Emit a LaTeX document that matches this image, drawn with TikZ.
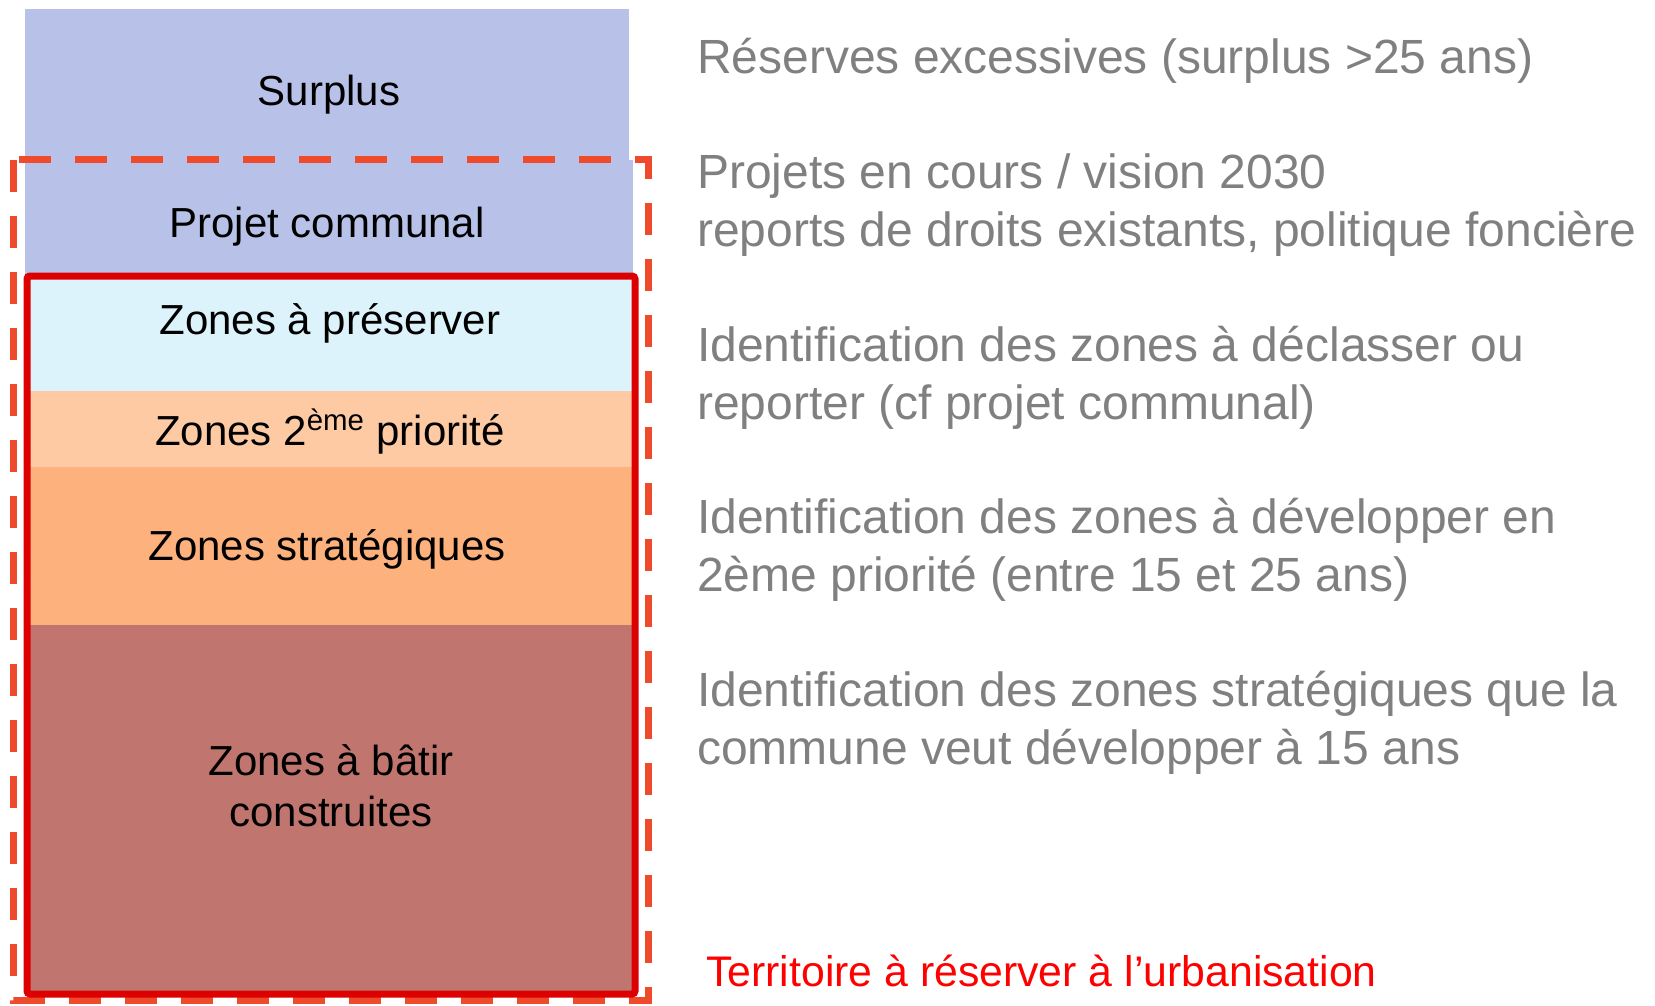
\documentclass[tikz,border=0pt]{standalone}
\usepackage{fontspec}
\setmainfont{Liberation Sans}
\usetikzlibrary{positioning}
\definecolor{lavande}{HTML}{B8C2E8}
\definecolor{ciel}{HTML}{DDF3FB}
\definecolor{peche}{HTML}{FDCAA3}
\definecolor{abricot}{HTML}{FDB17C}
\definecolor{brique}{HTML}{C0766F}
\definecolor{gris}{HTML}{808080}
\definecolor{rougetrait}{HTML}{EF4A2C}
\definecolor{rougecadre}{HTML}{DD0000}
\tikzset{
x=0.5pt, y=-0.5pt, % one unit is one pixel of the original
band/.style={inner sep=0pt, outer sep=0pt, minimum width=304pt}, % a coloured layer of the column
boxtext/.style={font=\fontsize{21}{25.4}\selectfont, align=center}, % labels inside the column
note/.style={anchor=west, align=left, text=gris, font=\fontsize{24}{29}\selectfont}, % grey notes on the right
zonedash/.style={draw=rougetrait, line width=3.5pt, dash pattern=on 16pt off 12pt}, % dashed outline
zonecadre/.style={draw=rougecadre, line width=3.5pt, rounded corners=1.5pt}, % solid red frame
}
\begin{document}
\begin{tikzpicture}
                \useasboundingbox (0,0) rectangle (1655,1006);

                \node[band, fill=lavande, minimum width=302pt, minimum height=75.5pt] (surplus) at (327,84.5) {};
                \node[band, fill=lavande, minimum height=58pt, below=0pt of surplus, xshift=1pt] (projet) {};
                \node[band, fill=ciel, minimum height=57.5pt, below=0pt of projet, xshift=1pt] (preserver) {};
                \node[band, fill=peche, minimum height=37.75pt, below=0pt of preserver] (priorite) {};
                \node[band, fill=abricot, minimum height=79.25pt, below=0pt of priorite] (strategique) {};
                \node[band, fill=brique, minimum height=184.5pt, below=0pt of strategique] (batir) {};

                \node[boxtext] (tsurplus) at (329,95) {Surplus};
                \node[boxtext] (tprojet) at (327,227) {Projet communal};
                \node[boxtext] (tpreserver) at (330,323) {Zones à préserver};
                \node[boxtext] (tpriorite) at (330,432) {Zones 2\textsuperscript{ème} priorité};
                \node[boxtext] (tstrategique) at (327,549) {Zones stratégiques};
                \node[boxtext] (tbatir) at (331,786) {Zones à bâtir\\construites};

                \draw[zonedash] (13,160) rectangle (648,1000);
                \draw[zonecadre] (preserver.north west) rectangle (batir.south east);

                \node[note] (nsurplus) at (690,61) {Réserves excessives (surplus >25 ans)};
                \node[note] (nprojet) at (690,205) {Projets en cours / vision 2030\\reports de droits existants, politique foncière};
                \node[note] (npreserver) at (690,378) {Identification des zones à déclasser ou\\reporter (cf projet communal)};
                \node[note] (npriorite) at (690,550) {Identification des zones à développer en\\2ème priorité (entre 15 et 25 ans)};
                \node[note] (nstrategique) at (690,723) {Identification des zones stratégiques que la\\commune veut développer à 15 ans};
                \node[note, text=red, font=\fontsize{21.4}{25.4}\selectfont] (nterritoire) at (699,971) {Territoire à réserver à l’urbanisation};
            \end{tikzpicture}
\end{document}
